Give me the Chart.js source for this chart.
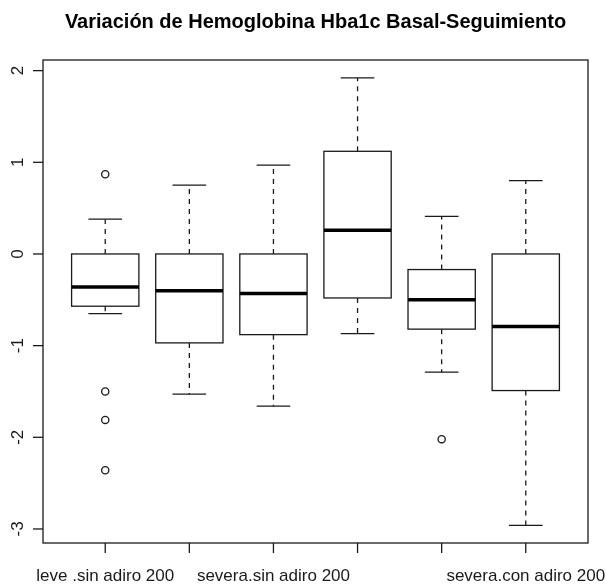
<!DOCTYPE html>
<html>
<head>
<meta charset="utf-8">
<title>Hba1c boxplot</title>
<script src="https://cdn.jsdelivr.net/npm/chart.js@4/dist/chart.umd.min.js"></script>
<style>
  body { margin: 0; background: #fff; }
</style>
</head>
<body>
<canvas id="boxCanvas" width="606" height="584"></canvas>
<script>
const titleText = 'Variación de Hemoglobina Hba1c Basal-Seguimiento';

// one entry per group, left to right
const positions   = [1, 2, 3, 4, 5, 6];
const tickLabels  = ['leve .sin adiro 200', '', 'severa.sin adiro 200', '', '', 'severa.con adiro 200'];
const whiskerHigh = [0.38, 0.75, 0.97, 1.92, 0.41, 0.80];
const upperQ      = [0.00, 0.00, 0.00, 1.12, -0.17, 0.00];
const medians     = [-0.36, -0.40, -0.43, 0.26, -0.50, -0.79];
const lowerQ      = [-0.57, -0.97, -0.88, -0.48, -0.82, -1.49];
const whiskerLow  = [-0.65, -1.53, -1.66, -0.87, -1.29, -2.96];

// outliers: group position + value
const outlierPos    = [1, 1, 1, 1, 5];
const outlierValues = [0.87, -1.50, -1.81, -2.36, -2.02];

const yTicks = [-3, -2, -1, 0, 1, 2];

const fontFamily = '"Liberation Sans", Arial, Helvetica, sans-serif';
const ink = '#1a1a1a';

// ================ BOXES, WHISKERS, AXES =====================================
const boxplotPlugin = {
    id: 'boxplot',
    beforeDatasetsDraw(chart) {
        const ctx = chart.ctx;
        const x = chart.scales.x;
        const y = chart.scales.y;
        ctx.save();
        positions.forEach((p, i) => {
            const cx = x.getPixelForValue(p);
            const bl = x.getPixelForValue(p - 0.4);
            const br = x.getPixelForValue(p + 0.4);
            const cl = x.getPixelForValue(p - 0.2);
            const cr = x.getPixelForValue(p + 0.2);
            const yHi = y.getPixelForValue(whiskerHigh[i]);
            const yQ3 = y.getPixelForValue(upperQ[i]);
            const yMed = y.getPixelForValue(medians[i]);
            const yQ1 = y.getPixelForValue(lowerQ[i]);
            const yLo = y.getPixelForValue(whiskerLow[i]);

            ctx.strokeStyle = ink;
            ctx.lineWidth = 1.3;

            // dashed whiskers
            ctx.setLineDash([5, 5]);
            ctx.beginPath();
            ctx.moveTo(cx, yQ3); ctx.lineTo(cx, yHi);
            ctx.moveTo(cx, yQ1); ctx.lineTo(cx, yLo);
            ctx.stroke();
            ctx.setLineDash([]);

            // caps
            ctx.beginPath();
            ctx.moveTo(cl, yHi); ctx.lineTo(cr, yHi);
            ctx.moveTo(cl, yLo); ctx.lineTo(cr, yLo);
            ctx.stroke();

            // box
            ctx.fillStyle = '#fff';
            ctx.fillRect(bl, yQ3, br - bl, yQ1 - yQ3);
            ctx.strokeRect(bl, yQ3, br - bl, yQ1 - yQ3);

            // median
            ctx.strokeStyle = '#000';
            ctx.lineWidth = 3.5;
            ctx.beginPath();
            ctx.moveTo(bl, yMed); ctx.lineTo(br, yMed);
            ctx.stroke();
        });
        ctx.restore();
    },
    afterDraw(chart) {
        const ctx = chart.ctx;
        const area = chart.chartArea;
        const x = chart.scales.x;
        const y = chart.scales.y;
        ctx.save();
        ctx.strokeStyle = ink;
        ctx.fillStyle = ink;
        ctx.lineWidth = 1.3;

        // frame
        ctx.strokeRect(area.left, area.top, area.right - area.left, area.bottom - area.top);

        // y axis ticks + rotated labels
        ctx.font = '17px ' + fontFamily;
        ctx.textAlign = 'center';
        ctx.textBaseline = 'alphabetic';
        yTicks.forEach((t) => {
            const py = y.getPixelForValue(t);
            ctx.beginPath();
            ctx.moveTo(area.left - 10, py); ctx.lineTo(area.left, py);
            ctx.stroke();
            ctx.save();
            ctx.translate(area.left - 20, py);
            ctx.rotate(-Math.PI / 2);
            ctx.fillText(String(t), 0, 0);
            ctx.restore();
        });

        // x axis ticks + labels
        positions.forEach((p, i) => {
            const px = x.getPixelForValue(p);
            ctx.beginPath();
            ctx.moveTo(px, area.bottom); ctx.lineTo(px, area.bottom + 10);
            ctx.stroke();
            if (tickLabels[i])
                ctx.fillText(tickLabels[i], px, area.bottom + 38);
        });

        // title
        ctx.fillStyle = '#000';
        ctx.font = 'bold 20px ' + fontFamily;
        ctx.fillText(titleText, (area.left + area.right) / 2, 28);
        ctx.restore();
    }
};

const outlierData = outlierPos.map((p, i) => ({x: p, y: outlierValues[i]}));

const boxChart = new Chart(document.getElementById('boxCanvas'), {
    type: 'scatter',
    data: {
        datasets: [{
            label: 'outliers',
            data: outlierData,
            pointStyle: 'circle',
            pointRadius: 3.6,
            pointHoverRadius: 3.6,
            pointBorderWidth: 1.3,
            borderColor: ink,
            backgroundColor: 'rgba(255,255,255,0)'
        }]
    },
    options: {
        responsive: false,
        animation: false,
        layout: {
            padding: {left: 43, right: 18, top: 60, bottom: 41}
        },
        scales: {
            x: {type: 'linear', min: 0.26, max: 6.74, display: false},
            y: {type: 'linear', min: -3.153, max: 2.116, display: false}
        },
        plugins: {
            legend: {display: false},
            title: {display: false},
            tooltip: {enabled: false}
        }
    },
    plugins: [boxplotPlugin]
});
</script>
</body>
</html>
